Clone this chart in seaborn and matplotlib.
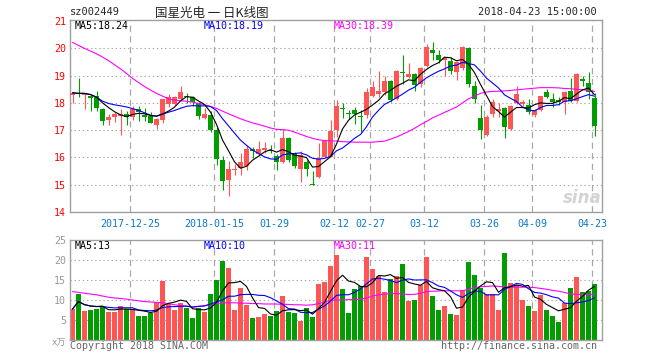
import numpy as np
import pandas as pd
import matplotlib
matplotlib.use("Agg")
import matplotlib.pyplot as plt
import seaborn as sns

# ---------------- data ----------------
opens = [18.28, 18.37, 18.30, 18.25, 18.25, 17.77, 17.37, 17.50, 17.52, 17.60,
         17.47, 17.77, 17.53, 17.52, 17.20, 17.38, 17.97, 17.97, 18.13, 18.26,
         18.22, 18.00, 17.45, 17.56, 17.00, 15.92, 15.17, 15.53, 15.62, 15.68,
         16.30, 16.14, 16.27, 16.28, 16.05, 15.84, 16.73, 16.18, 15.56, 15.84,
         15.02, 15.29, 16.02, 16.02, 17.00, 17.80, 17.60, 17.74, 17.53, 17.55,
         18.25, 18.31, 18.41, 18.80, 18.16, 19.14, 18.96, 19.06, 18.71, 19.35,
         19.94, 19.76, 19.57, 19.53, 19.14, 19.27, 20.02, 18.63, 17.45, 16.84,
         17.59, 17.70, 17.80, 17.05, 18.00, 17.97, 17.92, 17.56, 17.74, 18.40,
         18.13, 18.08, 18.02, 18.42, 18.08, 18.84, 18.73, 18.17]
highs = [18.39, 18.90, 18.37, 18.30, 18.43, 17.80, 17.58, 17.68, 17.76, 17.70,
         17.88, 17.88, 17.80, 17.65, 17.45, 18.15, 18.32, 18.27, 18.62, 18.36,
         18.24, 18.02, 17.82, 17.70, 17.10, 16.05, 15.86, 15.75, 16.17, 16.46,
         16.38, 16.60, 16.57, 16.45, 16.12, 17.03, 16.75, 16.20, 16.25, 15.90,
         15.51, 16.54, 16.62, 17.37, 18.10, 18.00, 17.75, 17.86, 17.74, 18.53,
         18.81, 19.17, 18.98, 18.85, 19.20, 19.76, 19.45, 19.10, 19.30, 20.15,
         20.25, 19.94, 19.70, 19.70, 19.55, 20.10, 20.05, 18.80, 17.92, 17.55,
         18.16, 18.00, 17.85, 17.93, 18.62, 18.10, 18.15, 17.78, 18.26, 18.50,
         18.38, 18.20, 18.42, 18.92, 19.08, 19.00, 19.12, 18.35]
lows = [17.99, 18.20, 17.77, 17.70, 17.70, 17.18, 17.20, 17.30, 16.83, 17.20,
        17.37, 17.34, 17.35, 17.25, 17.06, 17.27, 17.84, 17.92, 18.12, 18.00,
        17.90, 17.40, 17.40, 16.95, 15.72, 14.80, 14.60, 15.35, 15.35, 15.55,
        15.97, 16.05, 16.15, 16.15, 15.53, 15.80, 15.85, 15.60, 15.10, 15.32,
        15.00, 15.25, 16.00, 16.00, 16.76, 17.43, 17.40, 17.22, 16.94, 17.45,
        18.20, 18.20, 18.30, 18.04, 18.10, 18.70, 18.90, 18.45, 18.60, 19.30,
        19.57, 19.45, 19.00, 19.05, 18.84, 19.20, 18.60, 18.00, 16.67, 16.78,
        17.50, 17.50, 16.72, 17.00, 17.97, 17.90, 17.60, 17.50, 17.70, 18.18,
        17.86, 17.92, 17.60, 18.02, 18.05, 18.62, 18.15, 16.80]
closes = [18.37, 18.33, 18.35, 18.18, 17.82, 17.34, 17.47, 17.58, 17.60, 17.48,
          17.76, 17.67, 17.50, 17.27, 17.40, 18.13, 18.20, 18.22, 18.40, 18.20,
          18.02, 17.52, 17.58, 17.00, 15.95, 15.14, 15.56, 15.55, 15.83, 16.30,
          16.25, 16.30, 16.33, 16.25, 15.84, 16.73, 15.90, 15.70, 16.08, 15.56,
          15.00, 15.99, 16.60, 16.98, 17.88, 17.77, 17.58, 17.58, 17.48, 18.40,
          18.57, 18.43, 18.80, 18.10, 19.17, 19.10, 19.06, 18.65, 19.27, 20.06,
          19.82, 19.57, 19.66, 19.17, 19.51, 20.06, 18.68, 18.14, 17.00, 17.47,
          18.04, 17.77, 17.12, 17.90, 18.33, 18.03, 17.67, 17.74, 18.24, 18.22,
          18.05, 18.05, 18.40, 18.06, 19.06, 18.82, 18.40, 17.16]
ma30_price = [20.22, 20.11, 20.00, 19.90, 19.80, 19.68, 19.55, 19.40, 19.25, 19.08,
              18.90, 18.75, 18.60, 18.47, 18.35, 18.25, 18.15, 18.10, 18.08, 18.06,
              18.03, 17.98, 17.93, 17.87, 17.80, 17.70, 17.60, 17.51, 17.42, 17.34,
              17.27, 17.21, 17.15, 17.08, 17.03, 17.02, 17.00, 16.93, 16.85, 16.77,
              16.70, 16.65, 16.62, 16.61, 16.60, 16.58, 16.57, 16.56, 16.56, 16.56,
              16.56, 16.58, 16.60, 16.67, 16.75, 16.85, 16.95, 17.07, 17.20, 17.32,
              17.45, 17.55, 17.65, 17.75, 17.85, 18.00, 18.15, 18.25, 18.35, 18.40,
              18.42, 18.43, 18.44, 18.46, 18.48, 18.50, 18.52, 18.54, 18.56, 18.56,
              18.56, 18.55, 18.53, 18.52, 18.50, 18.48, 18.46, 18.42]
volume = [7.75, 11.5, 7.25, 7.5, 7.83, 8.33, 7.0, 7.0, 8.5, 7.83,
          7.83, 6.0, 6.0, 6.67, 9.5, 14.75, 8.9, 7.5, 9.17, 8.0,
          5.5, 8.0, 7.0, 11.5, 15.0, 19.75, 18.0, 7.5, 13.0, 8.75,
          5.5, 5.75, 6.5, 6.0, 7.25, 11.0, 7.0, 6.75, 4.75, 8.0,
          5.75, 14.0, 14.5, 18.5, 21.25, 12.75, 6.75, 12.75, 13.5, 20.75,
          17.75, 16.0, 12.0, 15.25, 16.0, 19.0, 9.75, 10.0, 13.75, 20.75,
          11.0, 7.5, 8.5, 6.5, 6.25, 12.5, 19.5, 16.25, 13.0, 11.5,
          11.5, 7.5, 21.75, 14.25, 13.75, 10.0, 8.5, 7.25, 11.25, 7.5,
          6.0, 4.5, 9.25, 13.0, 15.75, 12.0, 12.25, 14.0]
ma30_vol = [12.1, 11.9, 11.7, 11.5, 11.3, 11.0, 10.7, 10.5, 10.4, 10.2,
            10.0, 9.8, 9.6, 9.5, 9.4, 9.3, 9.1, 8.8, 8.6, 8.5,
            8.3, 8.4, 8.6, 8.9, 9.1, 9.3, 9.3, 9.3, 9.2, 9.2,
            9.1, 9.1, 9.0, 9.0, 9.0, 8.9, 8.9, 8.8, 8.8, 8.7,
            8.8, 9.1, 9.5, 9.9, 10.0, 10.0, 10.1, 10.1, 10.2, 10.5,
            11.0, 11.3, 11.5, 11.6, 11.6, 11.5, 11.4, 11.4, 11.7, 12.1,
            12.2, 12.25, 12.3, 12.3, 12.3, 12.3, 12.7, 13.1, 13.3, 13.4,
            13.5, 13.4, 13.3, 13.2, 13.2, 13.2, 13.2, 13.1, 12.9, 12.7,
            12.4, 12.2, 11.9, 11.5, 11.4, 11.4, 11.4, 11.4]
holidays = ["2018-01-01", "2018-02-15", "2018-02-16", "2018-02-19",
            "2018-02-20", "2018-02-21", "2018-04-05", "2018-04-06"]
tick_dates = ["2017-12-25", "2018-01-15", "2018-01-29", "2018-02-12", "2018-02-27",
              "2018-03-12", "2018-03-26", "2018-04-09", "2018-04-23"]
tick_labels = ["2017-12-25", "2018-01-15", "01-29", "02-12", "02-27",
               "03-12", "03-26", "04-09", "04-23"]
price_ticks = [14, 15, 16, 17, 18, 19, 20, 21]
vol_ticks = [5, 10, 15, 20, 25]

# ---------------- derived ----------------
days = pd.bdate_range("2017-12-11", "2018-04-23")
days = days[~days.isin(pd.to_datetime(holidays))]
n = len(closes)
idx = np.arange(n)
df = pd.DataFrame({"i": idx, "open": opens, "high": highs, "low": lows,
                   "close": closes, "vol": volume,
                   "ma30": ma30_price, "vma30": ma30_vol})
df["ma5"] = df["close"].rolling(5, min_periods=1).mean()
df["ma10"] = df["close"].rolling(10, min_periods=1).mean()
df["vma5"] = df["vol"].rolling(5, min_periods=1).mean()
df["vma10"] = df["vol"].rolling(10, min_periods=1).mean()
df["dir"] = np.where(df["close"] >= df["open"], "up", "down")
tick_pos = [int(np.where(days == pd.Timestamp(d))[0][0]) - 0.4 for d in tick_dates]

RED = "#ff5555"
GREEN = "#009c00"
GRID = "#a8a8a8"
FRAME = "#a0a0a0"
MONO = "DejaVu Sans Mono"
FS = 7.2
LW = 0.8

sns.set_style("white")
plt.rcParams["font.family"] = ["DejaVu Sans Mono", "Noto Sans CJK SC"]

W, H = 660, 360
fig = plt.figure(figsize=(W / 100, H / 100), dpi=100)
fig.patch.set_facecolor("white")

def fx(x):
    return x / W

def fy(y):
    return 1 - y / H

ax1 = fig.add_axes([fx(70), fy(212), 532 / W, 192 / H])
ax2 = fig.add_axes([fx(70), fy(340), 532 / W, 100 / H])

xlim = (-0.4167, n + 0.25)

# ---------- main panel ----------
for y in price_ticks[1:-1]:
    ax1.axhline(y, color=GRID, lw=0.8, ls=(0, (1.2, 2.5)), zorder=0)
for p in tick_pos:
    ax1.axvline(p, color=GRID, lw=0.9, ls=(0, (5, 3.5)), zorder=0)

cols = np.where(df["dir"] == "up", RED, GREEN)
ax1.vlines(df["i"], df["low"], df["high"], colors=cols, lw=0.8, zorder=2)
body_bot = np.minimum(df["open"], df["close"])
body_h = np.maximum(np.abs(df["close"] - df["open"]), 0.04)
ax1.bar(df["i"], body_h, bottom=body_bot, width=0.833, color=cols, lw=0, zorder=3)

sns.lineplot(data=df, x="i", y="ma30", color="#ff00ff", lw=LW, ax=ax1, zorder=4)
sns.lineplot(data=df, x="i", y="ma10", color="#0000ff", lw=LW, ax=ax1, zorder=5)
sns.lineplot(data=df, x="i", y="ma5", color="black", lw=LW, ax=ax1, zorder=6)

ax1.set_xlim(*xlim)
ax1.set_ylim(14, 21.04)
ax1.set_yticks(price_ticks)
ax1.set_yticklabels([str(t) for t in price_ticks], color="red", fontsize=FS, family=MONO)
ax1.set_xticks(tick_pos)
ax1.set_xticklabels(tick_labels, color="#0a78c8", fontsize=FS, family=MONO)
ax1.tick_params(axis="both", length=0, pad=3)
ax1.tick_params(axis="x", pad=5)
ax1.set_xlabel("")
ax1.set_ylabel("")
for s in ax1.spines.values():
    s.set_color(FRAME)
    s.set_linewidth(1.0)

# ---------- volume panel ----------
for y in vol_ticks[:-1]:
    ax2.axhline(y, color=GRID, lw=0.8, ls=(0, (1.2, 2.5)), zorder=0)
for p in tick_pos:
    ax2.axvline(p, color=GRID, lw=0.9, ls=(0, (5, 3.5)), zorder=0)

sns.barplot(data=df, x="i", y="vol", hue="dir", palette={"up": RED, "down": GREEN},
            dodge=False, width=0.833, saturation=1, linewidth=0, legend=False,
            ax=ax2, zorder=2)
sns.lineplot(x=idx, y=df["vma30"].values, color="#ff00ff", lw=LW, ax=ax2, zorder=4)
sns.lineplot(x=idx, y=df["vma10"].values, color="#0000ff", lw=LW, ax=ax2, zorder=5)
sns.lineplot(x=idx, y=df["vma5"].values, color="black", lw=LW, ax=ax2, zorder=6)

ax2.set_xlim(*xlim)
ax2.set_ylim(0, 25)
ax2.set_yticks(vol_ticks)
ax2.set_yticklabels([str(t) for t in vol_ticks], color="#999999", fontsize=FS, family=MONO)
ax2.set_xticks([])
ax2.tick_params(axis="both", length=0, pad=3)
ax2.set_xlabel("")
ax2.set_ylabel("")
for s in ax2.spines.values():
    s.set_color(FRAME)
    s.set_linewidth(1.0)

# ---------- texts ----------
fig.text(fx(70), fy(12), "sz002449", fontsize=FS + 0.3, family=MONO, va="center", ha="left")
fig.text(fx(212), fy(13), "国星光电 一 日K线图", fontsize=9, family=["Noto Sans CJK SC"],
         va="center", ha="center")
fig.text(fx(597), fy(12), "2018-04-23 15:00:00", fontsize=FS + 0.3, family=MONO,
         va="center", ha="right")

fig.text(fx(75), fy(26), "MA5:%.2f" % 18.24, fontsize=FS, family=MONO, color="black", va="center")
fig.text(fx(204), fy(26), "MA10:%.2f" % 18.19, fontsize=FS, family=MONO, color="#0000ff", va="center")
fig.text(fx(334), fy(26), "MA30:%.2f" % 18.39, fontsize=FS, family=MONO, color="#ff00ff", va="center")

fig.text(fx(75), fy(246), "MA5:13", fontsize=FS, family=MONO, color="black", va="center")
fig.text(fx(204), fy(246), "MA10:10", fontsize=FS, family=MONO, color="#0000ff", va="center")
fig.text(fx(334), fy(246), "MA30:11", fontsize=FS, family=MONO, color="#ff00ff", va="center")

fig.text(fx(66), fy(343), "x万", fontsize=6.5, family=["DejaVu Sans", "Noto Sans CJK SC"],
         color="#999999", va="center", ha="right")
fig.text(fx(70), fy(346), "Copyright 2018 SINA.COM", fontsize=FS, family=MONO,
         color="#666666", va="center", ha="left")
fig.text(fx(597), fy(346), "http://finance.sina.com.cn", fontsize=FS, family=MONO,
         color="#666666", va="center", ha="right")
fig.text(fx(582), fy(198), "sina", fontsize=12, family="DejaVu Sans", fontweight="bold",
         style="italic", color="#d4d4d4", va="center", ha="center", zorder=1)

fig.savefig("out.png", dpi=100, facecolor="white")
